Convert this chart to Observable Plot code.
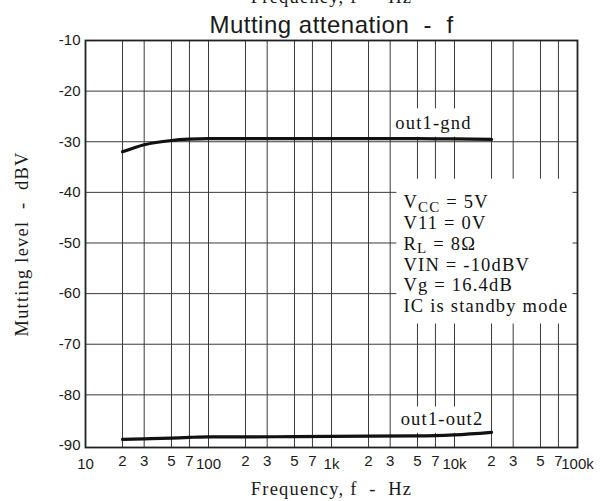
<!DOCTYPE html>
<html><head><meta charset="utf-8">
<script src="https://cdn.jsdelivr.net/npm/d3@7"></script>
<script src="https://cdn.jsdelivr.net/npm/@observablehq/plot@0.6"></script>
<style>
body{margin:0;background:#fff}
#chart{width:603px;height:501px;overflow:hidden}
g[font-family^="Liberation Serif"] text{letter-spacing:1.2px}
g[font-family^="Arial"] text{letter-spacing:0.5px}
</style>
</head><body><div id="chart"></div>
<script>
// ---- data ----
const freqGnd  = [20, 30, 50, 70, 100, 200, 500, 1000, 2000, 5000, 10000, 20000];
const levelGnd = [-32.0, -30.6, -29.75, -29.5, -29.4, -29.4, -29.4, -29.4, -29.4, -29.4, -29.45, -29.55];
const freqOut  = [20, 30, 50, 70, 100, 200, 500, 1000, 2000, 5000, 7000, 10000, 20000];
const levelOut = [-88.8, -88.7, -88.55, -88.4, -88.3, -88.3, -88.25, -88.2, -88.15, -88.1, -88.05, -87.9, -87.4];

const yTicks = [-10, -20, -30, -40, -50, -60, -70, -80, -90];
const gridY = [-20, -30, -40, -50, -60, -70, -80];
const minorTicks = [20, 30, 50, 70, 200, 300, 500, 700, 2000, 3000, 5000, 7000, 20000, 30000, 50000, 70000];
const minorLabels = ["2", "3", "5", "7", "2", "3", "5", "7", "2", "3", "5", "7", "2", "3", "5", "7"];
const decadeTicks = [10, 100, 1000, 10000, 100000];
const decadeLabels = ["10", "100", "1k", "10k", "100k"];
const gridX = [...minorTicks, 100, 1000, 10000];

const titleText = "Mutting attenation  -  f";
const xLabel = "Frequency, f  -  Hz";
const yLabel = "Mutting level  -  dBV";
const legendLines = ["V_{CC} = 5V", "V11 = 0V", "R_{L} = 8Ω", "VIN = -10dBV", "Vg = 16.4dB", "IC is standby mode"];
const curveLabels = [{f: 3300, v: -27.4, t: "out1-gnd"}, {f: 3650, v: -86.0, t: "out1-out2"}];
const labelBoxes = [{f1: 3150, f2: 15500, v1: -23.5, v2: -29.1}, {f1: 3150, f2: 18900, v1: -82.4, v2: -87.6}];
const legendBox = [{f1: 3400, f2: 92000, v1: -37.4, v2: -66.0}];
const legendPos = [{f: 3850, v: -40.2}];

const gnd = freqGnd.map((f, i) => ({f, v: levelGnd[i]}));
const out = freqOut.map((f, i) => ({f, v: levelOut[i]}));
const minorData = minorTicks.map((f, i) => ({f, t: minorLabels[i]}));
const decadeData = decadeTicks.map((f, i) => ({f, t: decadeLabels[i]}));

const serif = "Liberation Serif, Times New Roman, serif";
const sans = "Liberation Sans, sans-serif";

const svg = Plot.plot({
  width: 603, height: 501,
  marginLeft: 85, marginRight: 26, marginTop: 40, marginBottom: 54,
  style: {fontFamily: sans, fontSize: "15px", color: "#1a1a1a", background: "#fff"},
  x: {type: "log", domain: [10, 100000], axis: null},
  y: {domain: [-90.4, -10]},
  marks: [
    Plot.ruleX(gridX, {stroke: "#3a3a3a", strokeWidth: 1}),
    Plot.ruleY(gridY, {stroke: "#3a3a3a", strokeWidth: 1}),
    Plot.rect(labelBoxes, {x1: "f1", x2: "f2", y1: "v1", y2: "v2", fill: "#fff"}),
    Plot.rect(legendBox, {x1: "f1", x2: "f2", y1: "v1", y2: "v2", fill: "#fff"}),
    Plot.line(gnd, {x: "f", y: "v", stroke: "#111", strokeWidth: 3.2, curve: "monotone-x"}),
    Plot.line(out, {x: "f", y: "v", stroke: "#111", strokeWidth: 3.2, curve: "monotone-x"}),
    Plot.frame({stroke: "#222", strokeWidth: 1.8}),
    Plot.axisY(yTicks, {tickSize: 0, tickPadding: 5, label: null, tickFormat: d => String(d)}),
    Plot.text(minorData, {x: "f", text: "t", frameAnchor: "bottom", lineAnchor: "top", dy: 8,
      fontFamily: sans, fontSize: 15, fill: "#1a1a1a"}),
    Plot.text(decadeData, {x: "f", text: "t", frameAnchor: "bottom", lineAnchor: "top", dy: 11,
      fontFamily: sans, fontSize: 15, fill: "#1a1a1a"}),
    Plot.text(curveLabels, {x: "f", y: "v", text: "t", textAnchor: "start", lineAnchor: "bottom",
      fontFamily: serif, fontSize: 18.5, fill: "#111"}),
    Plot.text(legendPos, {x: "f", y: "v", text: () => legendLines.join("\n"), textAnchor: "start",
      lineAnchor: "top", lineHeight: 1.124, fontFamily: serif, fontSize: 18.5, fill: "#111"}),
    Plot.text([titleText], {frameAnchor: "top", dy: -8, lineAnchor: "bottom",
      fontFamily: "Arial, Liberation Sans, sans-serif", fontSize: 24, fill: "#1a1a1a"}),
    Plot.text([xLabel], {frameAnchor: "top", dy: -38, lineAnchor: "bottom",
      fontFamily: serif, fontSize: 18.5, fill: "#1a1a1a"}),
    Plot.text([xLabel], {frameAnchor: "bottom", dy: 47, lineAnchor: "bottom",
      fontFamily: serif, fontSize: 18.5, fill: "#1a1a1a"}),
    Plot.text([yLabel], {frameAnchor: "left", dx: -63, rotate: -90, lineAnchor: "middle", textAnchor: "middle",
      fontFamily: serif, fontSize: 18.5, fill: "#1a1a1a"})
  ]
});

// subscripts (V_CC, R_L)
const NS = "http://www.w3.org/2000/svg";
svg.querySelectorAll("text, tspan").forEach(el => {
  if (el.children.length) return;
  const m = el.textContent.match(/^(.*?)_\{(.*?)\}(.*)$/);
  if (!m) return;
  el.textContent = m[1];
  const sub = document.createElementNS(NS, "tspan");
  sub.setAttribute("dy", "3.5");
  sub.setAttribute("font-size", "15");
  sub.textContent = m[2];
  const rest = document.createElementNS(NS, "tspan");
  rest.setAttribute("dy", "-3.5");
  rest.textContent = m[3];
  el.append(sub, rest);
});

document.getElementById("chart").appendChild(svg);
</script>
</body></html>
